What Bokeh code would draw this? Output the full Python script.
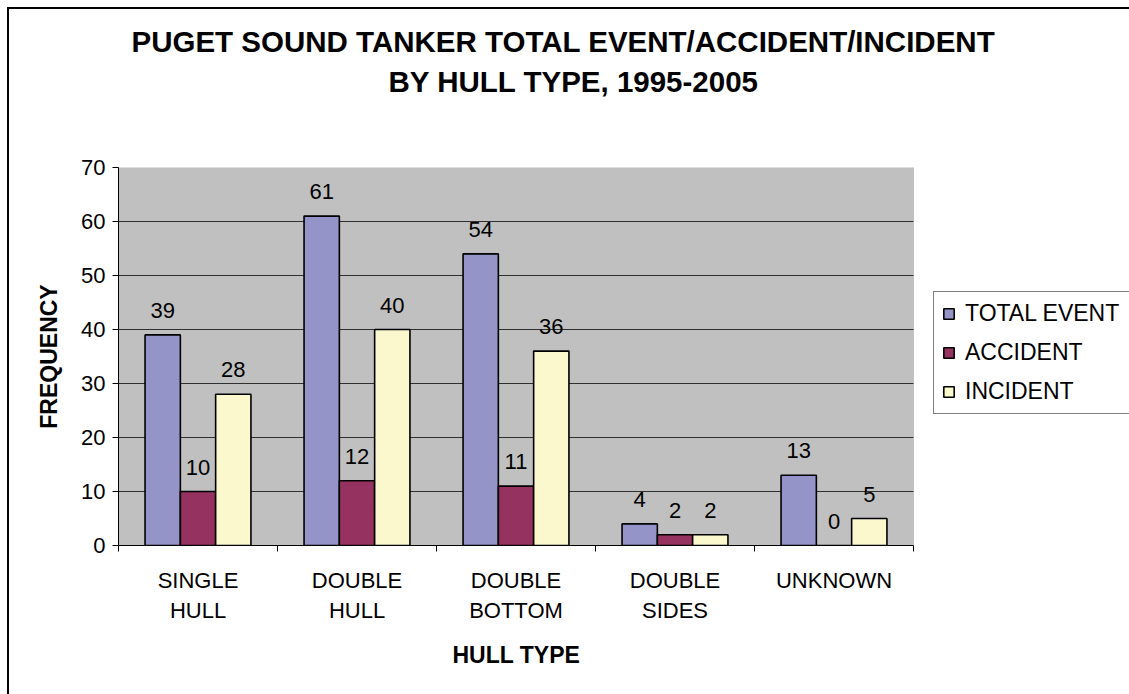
import numpy as np
from bokeh.plotting import figure
from bokeh.models import (Range1d, FixedTicker, ColumnDataSource, Legend, LegendItem,
                          LabelSet, Title, BoxAnnotation)
from bokeh.core.properties import value
from bokeh.embed import file_html
from bokeh.resources import INLINE

# ---- data ----
categories = ["SINGLE\nHULL", "DOUBLE\nHULL", "DOUBLE\nBOTTOM", "DOUBLE\nSIDES", "UNKNOWN"]
series_names = ["TOTAL EVENT", "ACCIDENT", "INCIDENT"]
total_event = [39, 61, 54, 4, 13]
accident = [10, 12, 11, 2, 0]
incident = [28, 40, 36, 2, 5]
y_ticks = [0, 10, 20, 30, 40, 50, 60, 70]
grid_levels = [10, 20, 30, 40, 50, 60]
title_lines = ["PUGET SOUND TANKER TOTAL EVENT/ACCIDENT/INCIDENT", "BY HULL TYPE, 1995-2005"]
x_title = "HULL TYPE"
y_title = "FREQUENCY"

# ---- style / layout ----
FONT = "Liberation Sans"
colors = ["#9494C8", "#963260", "#FAF8CC"]
W, H = 1129, 694
FL, FR, FT, FB = 118, 913, 167, 545   # plot-area edges in pixels
YMAX = 70
NCAT = len(categories)
BAR_W = 0.222
XMAX = NCAT * (W - FL) / (FR - FL)    # frame runs to the right edge; plot area stops at NCAT

p = figure(width=W, height=H, x_range=Range1d(0, XMAX), y_range=Range1d(0, YMAX),
           output_backend="svg", toolbar_location=None,
           min_border_left=FL, min_border_right=0, min_border_top=FT, min_border_bottom=H - FB,
           background_fill_color="white", border_fill_color="white", border_fill_alpha=0,
           outline_line_color=None)

# outer chart-area border (left and top edges visible, the rest runs off the page)
p.styles = {
    "background": ("linear-gradient(#000,#000) 7px 7px / 2px calc(100% - 7px) no-repeat, "
                   "linear-gradient(#000,#000) 7px 7px / calc(100% - 7px) 2px no-repeat, #fff"),
}

# gray plot area
p.add_layout(BoxAnnotation(left=0, right=NCAT, bottom=0, top=YMAX, level="underlay",
                           fill_color="#C0C0C0", fill_alpha=1,
                           line_color="#808080", line_width=1))

# gridlines
p.segment(x0=0, x1=NCAT, y0=grid_levels, y1=grid_levels, line_color="#303030", line_width=1)

centers = np.arange(NCAT) + 0.5
offsets = [-BAR_W, 0.0, BAR_W]
all_series = [total_event, accident, incident]

items = []
for name, vals, col, off in zip(series_names, all_series, colors, offsets):
    src = ColumnDataSource(dict(x=centers + off, top=vals, txt=[str(v) for v in vals]))
    r = p.vbar(x="x", top="top", bottom=0, width=BAR_W, source=src,
               fill_color=col, line_color="black", line_width=1.6)
    items.append(LegendItem(label=name, renderers=[r]))
    lbl = LabelSet(x="x", y="top", text="txt", source=src, y_offset=17,
                   text_align="center", text_baseline="alphabetic",
                   text_font=value(FONT), text_font_size=value("22px"), text_color="black")
    p.add_layout(lbl)

p.xgrid.visible = False
p.ygrid.visible = False

# ---- axes ----
p.xaxis.bounds = (0, NCAT)
p.xaxis.ticker = FixedTicker(ticks=list(centers), minor_ticks=list(range(NCAT + 1)))
p.xaxis.major_label_overrides = {float(c): lab for c, lab in zip(centers, categories)}
p.xaxis.major_tick_line_color = None
p.xaxis.major_tick_out = 6
p.xaxis.minor_tick_out = 6
p.xaxis.minor_tick_in = 0
p.xaxis.minor_tick_line_color = "black"
p.xaxis.axis_line_color = "black"
p.xaxis.major_label_standoff = 16
p.xaxis.major_label_text_font = FONT
p.xaxis.major_label_text_font_size = "22px"
p.xaxis.major_label_text_color = "black"

p.yaxis.ticker = FixedTicker(ticks=y_ticks)
p.yaxis.major_tick_out = 6
p.yaxis.major_tick_in = 0
p.yaxis.minor_tick_line_color = None
p.yaxis.axis_line_color = "black"
p.yaxis.major_tick_line_color = "black"
p.yaxis.major_label_standoff = 7
p.yaxis.major_label_text_font = FONT
p.yaxis.major_label_text_font_size = "22px"
p.yaxis.major_label_text_color = "black"
p.yaxis.axis_label = y_title
p.yaxis.axis_label_text_font = FONT
p.yaxis.axis_label_text_font_size = "23px"
p.yaxis.axis_label_text_font_style = "bold"
p.yaxis.axis_label_text_color = "black"
p.yaxis.axis_label_standoff = 16

# x-axis title, centred under the plot area
p.add_layout(Title(text=x_title, align="left", offset=452 - FL, standoff=28,
                   text_font=FONT, text_font_size="23px", text_font_style="bold",
                   text_color="black"), "below")

# ---- legend ----
legend = Legend(items=items, location=(933 - FL, FB - 414), margin=0,
                label_text_font=FONT, label_text_font_size="23px", label_text_color="black",
                glyph_width=13, glyph_height=13, label_height=26, label_width=200,
                spacing=12, padding=8, label_standoff=10,
                border_line_color="black", border_line_width=1,
                background_fill_color="white", background_fill_alpha=1)
p.add_layout(legend, "center")

# ---- title: spacer nearest the frame, then line 2, then line 1 ----
spacer = Title(text=" ", standoff=64, text_font=FONT, text_font_size="1px")
t2 = Title(text=title_lines[1], align="left", offset=388 - FL, standoff=5,
           text_font=FONT, text_font_size="29.5px", text_font_style="bold", text_color="black")
t1 = Title(text=title_lines[0], align="left", offset=131 - FL, standoff=5,
           text_font=FONT, text_font_size="29.5px", text_font_style="bold", text_color="black")
p.add_layout(spacer, "above")
p.add_layout(t2, "above")
p.add_layout(t1, "above")

html = file_html(p, INLINE)
open("out.html", "w").write(html)
